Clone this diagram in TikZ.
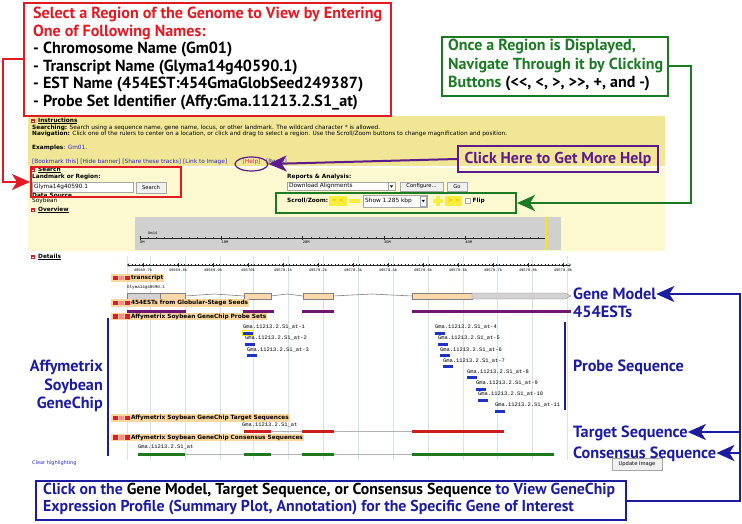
\documentclass[tikz,border=0pt]{standalone}
\usepackage{fontspec}
\setmainfont{DejaVu Sans}
\newfontfamily\ann{PT Sans}
\newfontfamily\mono{Liberation Mono}
\usetikzlibrary{arrows.meta,shapes.geometric}
\definecolor{cred}{RGB}{226,26,36}
\definecolor{cgreen}{RGB}{28,122,36}
\definecolor{cpurple}{RGB}{92,26,140}
\definecolor{cblue}{RGB}{28,28,160}
\definecolor{khaki}{RGB}{240,230,150}
\definecolor{lyel}{RGB}{252,249,208}
\definecolor{ovgray}{RGB}{208,208,208}
\definecolor{peach}{RGB}{252,216,170}
\definecolor{hdrbg}{RGB}{250,214,160}
\definecolor{estc}{RGB}{112,22,112}
\definecolor{probec}{RGB}{30,50,200}
\definecolor{tgtc}{RGB}{204,30,30}
\definecolor{consc}{RGB}{30,120,30}
\definecolor{gridc}{RGB}{214,226,238}
\definecolor{linkc}{RGB}{40,40,200}
\definecolor{btnyel}{RGB}{245,238,60}
\definecolor{helpc}{RGB}{220,40,110}
\newlength\mylen
\newcommand\fitsize[3]{\settowidth\mylen{\ann\bfseries\fontsize{10}{10}\selectfont #3}\pgfmathsetmacro#1{10*#2/\mylen}}
\newcommand\rsq[2]{\fill[cred] (#1-2.4,#2-2.4) rectangle ++(4.8,4.8);\fill[white] (#1-1.3,#2-0.3) rectangle ++(2.6,0.6);}
\newcommand\trkhdr[3]{\node[hdr] (#2) at (111,#1) {\hspace{19pt}#3};
  \fill[cred] (113,#1-2.4) rectangle ++(4.8,4.8);
  \fill[red!45] (119,#1-2.4) rectangle ++(4.8,4.8);
  \fill[cred] (125,#1-2.4) rectangle ++(4.8,4.8);}
\AtBeginDocument{%
\fitsize{\szR}{349}{Select a Region of the Genome to View by Entering}%
\fitsize{\szG}{215}{Navigate Through it by Clicking}%
\fitsize{\szP}{187}{Click Here to Get More Help}%
\fitsize{\szB}{572}{Click on the Gene Model, Target Sequence, or Consensus Sequence to View GeneChip}%
\fitsize{\szL}{143}{Consensus Sequence}%
\fitsize{\szA}{73}{Affymetrix}%
}
\begin{document}
\begin{tikzpicture}[x=1pt,y=-1pt,
  wt/.style={font=\fontsize{5.8}{6}\selectfont, inner sep=0pt, anchor=west},
  wb/.style={font=\bfseries\fontsize{5.8}{6}\selectfont, inner sep=0pt, anchor=west},
  hdr/.style={font=\bfseries\fontsize{5.8}{6}\selectfont, fill=hdrbg, inner xsep=0.8pt, inner ysep=0.8pt, anchor=west},
  ml/.style={font=\mono\fontsize{5.4}{6}\selectfont, inner sep=0pt, anchor=west},
  rl/.style={font=\mono\fontsize{3.8}{4}\selectfont, inner sep=0pt},
  blab/.style={font=\ann\bfseries\fontsize{\szL}{\szL}\selectfont, text=cblue, inner sep=0pt, text height=11pt, text depth=0pt, anchor=west},
  abox/.style={line width=2pt, anchor=north west, inner sep=0pt},
  atxt/.style={align=left, anchor=west, inner sep=0pt},
  conn/.style={line width=2pt},
  tipa/.style={-{Stealth[length=18pt,width=16pt,inset=5pt]}},
  btn/.style={draw=gray!70, fill=gray!12, line width=0.4pt, font=\fontsize{5.2}{6}\selectfont, inner sep=0pt},
  fld/.style={draw=gray!70, fill=white, line width=0.4pt}]
\useasboundingbox (0,0) rectangle (742,524);
\fill[white] (0,0) rectangle (742,524);
% ---------------- page panels
\fill[khaki] (28,116) rectangle (665,166);
\fill[lyel] (28,168) rectangle (665,251);
% instructions
\rsq{33}{121}
\node[wb] (ins) at (38,121) {\underline{Instructions}};
\node[wt] (srch) at (32,127.5) {\textbf{Searching:} Search using a sequence name, gene name, locus, or other landmark. The wildcard character * is allowed.};
\node[wt] (nav) at (32,134) {\textbf{Navigation:} Click one of the rulers to center on a location, or click and drag to select a region. Use the Scroll/Zoom buttons to change magnification and position.};
\node[wt] (exa) at (32,148) {\textbf{Examples}: \textcolor{linkc}{Gm01}.};
\node[wt, text=linkc] (bm) at (32,162) {[Bookmark this] [Hide banner] [Share these tracks] [Link to Image]};
\node[wt, text=helpc] (hlp) at (242.5,162) {[Help]};
\node[wt, text=linkc] (rst) at (266,162) {[Reset]};
% search area
\rsq{33}{170}
\node[wb] (sh) at (38,170) {\underline{Search}};
\node[wb] (lmk) at (32,176.5) {Landmark or Region:};
\draw[fld] (32,182) rectangle (133,192);
\node[wt] (lmkv) at (34,187) {Glyma14g40590.1};
\node[btn, minimum width=30pt, minimum height=11pt] (sbtn) at (151,187.5) {Search};
\node[wb] (ds) at (32,195) {Data Source};
\node[wt] (soy) at (32,201) {Soybean};
\node[wb] (ra) at (287,177) {Reports \& Analysis:};
\draw[fld] (287,182) rectangle (395,190.5);
\draw[fld] (388,182.5) rectangle (395,190);
\fill (389.8,185.3) -- (393.2,185.3) -- (391.5,187.6) -- cycle;
\node[wt] (dla) at (289,186.3) {Download Alignments};
\node[btn, minimum width=43pt, minimum height=9.5pt] (cfg) at (421.5,186.5) {Configure...};
\node[btn, minimum width=20pt, minimum height=9.5pt] (gob) at (457,186.5) {Go};
\node[wb] (sz) at (287,201) {Scroll/Zoom:};
\fill[btnyel] (329,196.5) rectangle (347,205.5);
\node[font=\bfseries\fontsize{6.5}{6}\selectfont, text=yellow!50!orange, inner sep=0] (ll) at (338,201) {<< <};
\fill[btnyel] (349,199.5) rectangle (360,202.5);
\draw[fld] (363,195.5) rectangle (427,207);
\draw[fld] (420,196.5) rectangle (426.5,206);
\fill (421.6,199.8) -- (424.9,199.8) -- (423.25,202.2) -- cycle;
\node[wt] (shw) at (365,201.3) {Show 1.285 kbp};
\fill[btnyel] (435.5,196) rectangle (439.5,206);
\fill[btnyel] (432.5,199) rectangle (442.5,203);
\fill[btnyel] (445,196.5) rectangle (462,205.5);
\node[font=\bfseries\fontsize{6.5}{6}\selectfont, text=yellow!50!orange, inner sep=0] (rr) at (453.5,201) {> >>};
\draw[fld] (465.5,198.5) rectangle (470.5,203.5);
\node[wb] (flp) at (472.5,201) {Flip};
% overview
\rsq{33}{210}
\node[wb] (ov) at (38,210) {\underline{Overview}};
\fill[ovgray] (135,217) rectangle (561,250);
\node[rl, anchor=west] (gm14) at (148,233) {Gm14};
\draw[gray!30!black, line width=0.4pt] (140,238) -- (547,238);
\foreach \k in {0,...,50} \draw[gray!30!black, line width=0.3pt] (140+8.13*\k,237.2) -- ++(0,1.6);
\foreach \i/\t in {0/0M,1/10M,2/20M,3/30M,4/40M} {
  \draw[gray!30!black, line width=0.4pt] (140+81.3*\i,236) -- ++(0,4);
  \node[rl, anchor=north west] (ov\i) at (140+81.3*\i,240.5) {\t};}
\draw[yellow!90!orange, line width=1.5pt] (546,217) -- (546,250);
% details
\rsq{33}{257}
\node[wb] (dt) at (38,257) {\underline{Details}};
\foreach \gx in {127,150,185,220,253,288,323,358,393,428,463,497,532,567}
  \draw[gridc, line width=0.8pt] (\gx,256) -- (\gx,460);
\draw[gray!30!black, line width=0.4pt, {Straight Barb[length=2pt,width=3pt]}-{Straight Barb[length=2pt,width=3pt]}] (127,265) -- (571,265);
\foreach \k in {0,...,125} \draw[gray!30!black, line width=0.25pt] (128.5+3.5*\k,264.3) -- ++(0,1.4);
\foreach \i/\t in {0/49569.7k,1/49569.8k,2/49569.9k,3/49570k,4/49570.1k,5/49570.2k,6/49570.3k,7/49570.4k,8/49570.5k,9/49570.6k,10/49570.7k,11/49570.8k,12/49570.9k} {
  \draw[gray!30!black, line width=0.4pt] (143+35*\i,263) -- ++(0,4);
  \node[rl] (rt\i) at (143+35*\i,270) {\t};}
% tracks
\trkhdr{278}{th1}{transcript}
\node[ml, font=\mono\fontsize{4.2}{5}\selectfont] (glab) at (127,287.5) {Glyma14g40590.1};
\draw[gray, line width=0.6pt] (185,296) -- (214,294) -- (244,296);
\draw[gray, line width=0.6pt] (271,296) -- (287,294) -- (303,296);
\draw[gray, line width=0.6pt] (333,296) -- (372,294) -- (412,296);
\filldraw[fill=gray!35, draw=gray, line width=0.4pt] (127,293) rectangle (160,299);
\filldraw[fill=peach, draw=gray, line width=0.4pt] (160,293) rectangle (185,299);
\filldraw[fill=peach, draw=gray, line width=0.4pt] (244,293) rectangle (271,299);
\filldraw[fill=peach, draw=gray, line width=0.4pt] (303,293) rectangle (333,299);
\filldraw[fill=peach, draw=gray, line width=0.4pt] (412,293) rectangle (472,299);
\filldraw[fill=gray!35, draw=gray, line width=0.4pt] (472,293) -- (565,293) -- (571,296) -- (565,299) -- (472,299) -- cycle;
\trkhdr{303}{th2}{454ESTs from Globular-Stage Seeds}
\foreach \a/\b in {127/186,243/274,302/334,412/571} \fill[estc] (\a,309.8) rectangle (\b,312.6);
\trkhdr{316.5}{th3}{Affymetrix Soybean GeneChip Probe Sets}
\foreach \lx/\ly/\n in {243/327/1,245/338/2,247/349.5/3,435/327/4,438/338/5,440/349.5/6,443/360.5/7,467/371.5/8,476/383/9,478/394/10,495/405/11} {
  \node[ml] (pb\n) at (\lx,\ly) {Gma.11213.2.S1\_at-\n};
  \fill[probec] (\lx,\ly+4.5) rectangle ++(9.5,3);}
\draw[yellow!90!orange, line width=1pt] (242.2,330.8) rectangle (253.3,335.2);
\trkhdr{418}{th4}{Affymetrix Soybean GeneChip Target Sequences}
\node[ml] (tl) at (242,424.5) {Gma.11213.2.S1\_at};
\draw[gray!60, line width=0.6pt] (244,431.5) -- (504,431.5);
\foreach \a/\b in {244/271,302/334,412/504} \fill[tgtc] (\a,430) rectangle (\b,433);
\trkhdr{437.5}{th5}{Affymetrix Soybean GeneChip Consensus Sequences}
\node[ml] (cl) at (138,447) {Gma.11213.2.S1\_at};
\draw[gray!60, line width=0.6pt] (138,454.5) -- (554,454.5);
\foreach \a/\b in {138/185,244/271,302/334,412/554} \fill[consc] (\a,453) rectangle (\b,456);
\node[wt, text=linkc, font=\fontsize{5}{5}\selectfont] (clr) at (32,463) {Clear highlighting};
\node[btn, minimum width=50pt, minimum height=12pt] (upd) at (637,464) {Update Image};
% ---------------- annotations
\node[abox, draw=cred, minimum width=367pt, minimum height=113pt] (selbox) at (23,2) {};
\node[atxt, font=\ann\bfseries\fontsize{\szR}{17.6}\selectfont] (seltxt) at (33,58.5)
 {\textcolor{cred}{Select a Region of the Genome to View by Entering}\\
  \textcolor{cred}{One of Following Names:}\\
  - Chromosome Name (Gm01)\\
  - Transcript Name (Glyma14g40590.1)\\
  - EST Name (454EST:454GmaGlobSeed249387)\\
  - Probe Set Identifier (Affy:Gma.11213.2.S1\_at)};
\node[abox, draw=cred, minimum width=150pt, minimum height=30pt] (searchbox) at (30,166) {};
\draw[conn, cred, tipa] (selbox.west) -- ++(-20,0) |- (searchbox.west);
\node[abox, draw=cgreen, minimum width=226pt, minimum height=59pt] (navbox) at (441,36) {};
\node[atxt, text=cgreen, font=\ann\bfseries\fontsize{\szG}{18.5}\selectfont] (navtxt) at (448,65.5)
 {Once a Region is Displayed,\\ Navigate Through it by Clicking\\ Buttons \textcolor{black}{(<<, <, >, >>, +, and -)}};
\node[abox, draw=cgreen, minimum width=240pt, minimum height=20pt] (scrollbox) at (275,192) {};
\draw[conn, cgreen, tipa] (navbox.east) -- ++(22,0) |- (scrollbox.east);
\node[draw=cpurple, line width=1.2pt, ellipse, minimum width=33pt, minimum height=14pt, inner sep=0] (helpell) at (251.5,164) {};
\node[abox, draw=cpurple, text=cpurple, font=\ann\bfseries\fontsize{\szP}{\szP}\selectfont, minimum width=200pt, minimum height=26pt] (helpbox) at (457,145) {Click Here to Get More Help};
\draw[conn, cpurple, tipa] (helpbox.west) -- (helpell.east);
% blue annotations
\node[blab] (gm) at (573,294) {Gene Model};
\node[blab] (est) at (573,312) {454ESTs};
\node[blab] (prb) at (573,366) {Probe Sequence};
\node[blab] (tgt) at (573,432) {Target Sequence};
\node[blab] (cns) at (573,453) {Consensus Sequence};
\node[font=\ann\bfseries\fontsize{\szA}{18.5}\selectfont, text=cblue, align=right, anchor=east, inner sep=0] (affy) at (103,386) {Affymetrix\\Soybean\\GeneChip};
\draw[conn, cblue] (108,318) -- (108,456);
\draw[conn, cblue] (565,322) -- (565,410);
\node[abox, draw=cblue, minimum width=590pt, minimum height=39pt] (clickbox) at (35,480) {};
\node[atxt, text=cblue, font=\ann\bfseries\fontsize{\szB}{17}\selectfont] (clicktxt) at (43,499.5)
 {Click on the \textcolor{black}{Gene Model, Target Sequence, or Consensus Sequence} to View GeneChip\\ Expression Profile (Summary Plot, Annotation) for the Specific Gene of Interest};
\coordinate (rv) at (740,0);
\draw[conn, cblue, tipa] (clickbox.east) -| (rv |- gm.east) -- (gm.east);
\draw[conn, cblue, tipa] (rv |- tgt.east) -- (tgt.east);
\draw[conn, cblue, tipa] (rv |- cns.east) -- (cns.east);
\end{tikzpicture}
\end{document}
